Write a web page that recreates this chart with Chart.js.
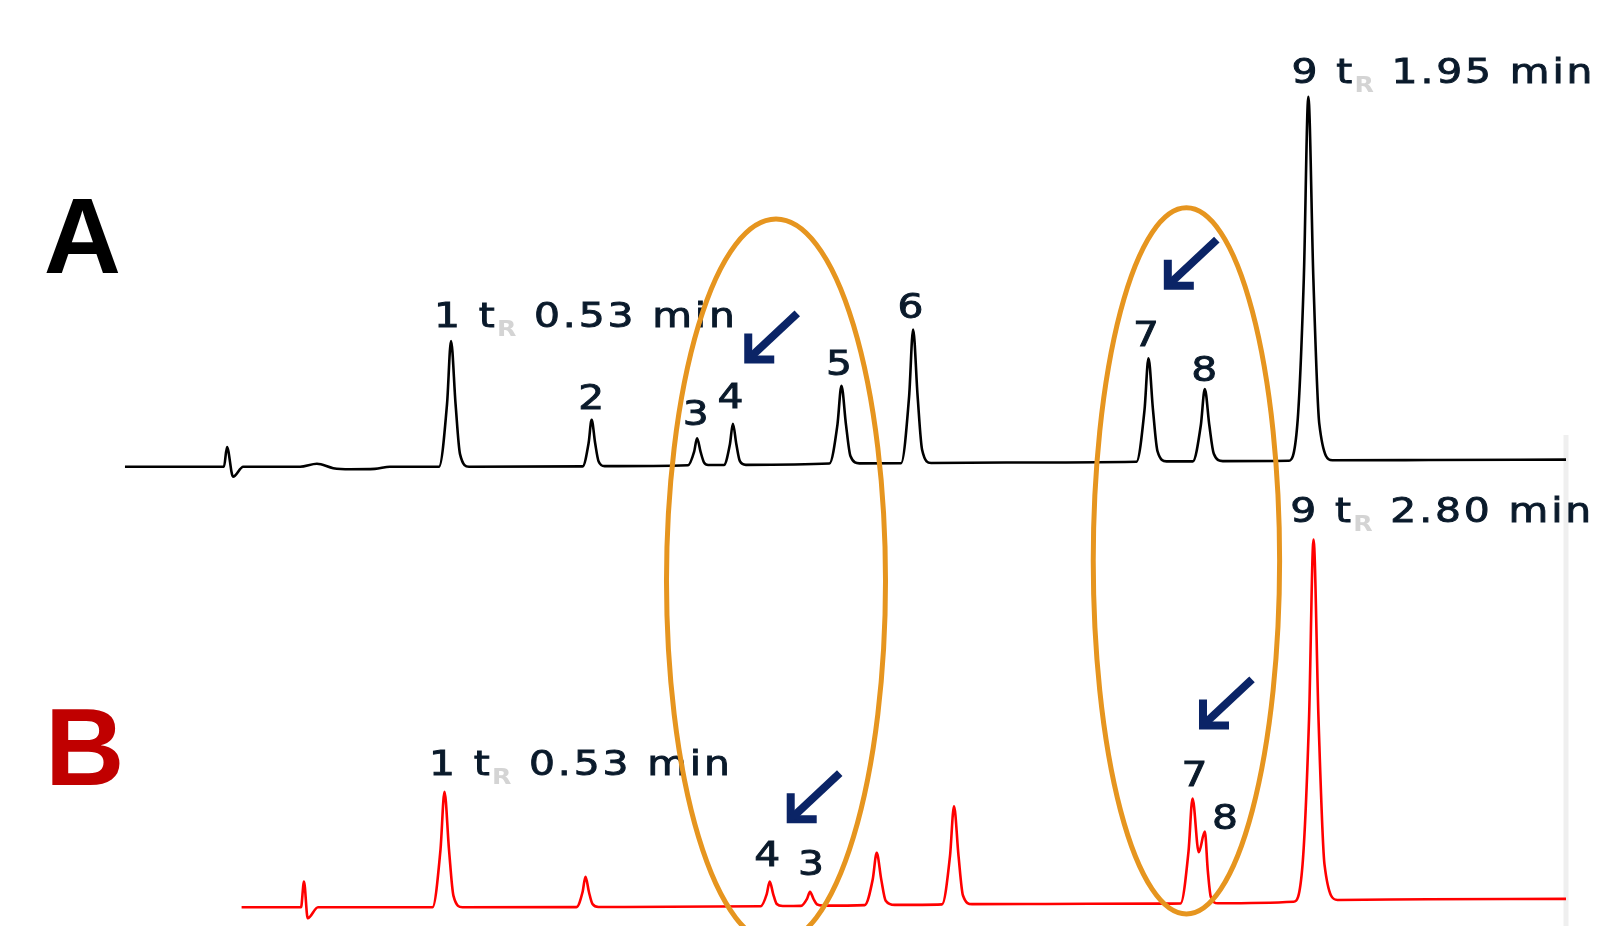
<!DOCTYPE html>
<html>
<head>
<meta charset="utf-8">
<title>Chromatograms A / B</title>
<script src="https://cdn.jsdelivr.net/npm/chart.js@4.4.1/dist/chart.umd.min.js"></script>
<style>
    html, body { margin: 0; padding: 0; background: #fff; overflow: hidden; }
    #wrap { position: relative; width: 1605px; height: 926px; }
</style>
</head>
<body>
<div id="wrap"><canvas id="myChart"></canvas></div>
<script>
// trace A (black): retention time in min, signal in % of peak 9
const timeA = [-0.010, 0.154, 0.159, 0.169, 0.186, 0.280, 0.308, 0.335, 0.363, 0.404, 0.429,
    0.5102, 0.5235, 0.5301, 0.5376, 0.5450, 0.5599,
    0.7481, 0.7580, 0.7630, 0.7688, 0.7746, 0.7845,
    0.9228, 0.9327, 0.9377, 0.9435, 0.9493, 0.9560,
    0.9821, 0.9920, 0.9970, 1.0028, 1.0086, 1.0185,
    1.1569, 1.1702, 1.1768, 1.1843, 1.1917, 1.2066,
    1.2756, 1.2889, 1.2955, 1.3030, 1.3104, 1.3253,
    1.4500,
    1.6655, 1.6788, 1.6854, 1.6929, 1.7003, 1.7152,
    1.7588, 1.7721, 1.7787, 1.7862, 1.7936, 1.8085,
    1.9171, 1.9320, 1.9427, 1.9502, 1.9585, 1.9684, 1.9900,
    2.1500, 2.3770];
const signalA = [0, 0, 5.3, -2.7, 0, 0, 0.8, -0.4, -0.7, -0.6, 0,
    0, 17, 34.0, 17, 3.4, 0,
    0.1, 6.4, 12.7, 6.4, 1.4, 0.15,
    0.4, 4.0, 7.7, 4.0, 1.1, 0.45,
    0.45, 6.0, 11.6, 6.0, 1.5, 0.5,
    0.85, 11.4, 21.9, 11.4, 2.9, 0.9,
    0.95, 19, 37.1, 19, 4.6, 1.0,
    1.15,
    1.35, 15.3, 29.3, 15.3, 4.2, 1.45,
    1.45, 11.2, 21.0, 11.2, 3.5, 1.5,
    1.6, 11.5, 51, 100.1, 51, 11.5, 1.75,
    1.8, 1.9];

// trace B (red)
const timeB = [0.000, 0.1552, 0.1630, 0.1727, 0.1996,
    0.4987, 0.5196, 0.5300, 0.5418, 0.5535, 0.5770,
    0.8749, 0.8906, 0.8984, 0.9075, 0.9167, 0.9324,
    1.3561, 1.3718, 1.3796, 1.3887, 1.3979, 1.4136,
    1.4613, 1.4770, 1.4848, 1.4939, 1.5031, 1.5188,
    1.6278, 1.6487, 1.6591, 1.6709, 1.6826, 1.7061,
    1.8297, 1.8506, 1.8610, 1.8728, 1.8845, 1.9080,
    2.1000, 2.4000,
    2.4528, 2.4737, 2.4841, 2.5004, 2.5162, 2.5240, 2.5320, 2.5500,
    2.7480, 2.7715, 2.7884, 2.8002, 2.8133, 2.8289, 2.8629,
    3.1000, 3.4598];
const signalB = [0, 0, 7.0, -3.0, 0,
    0, 15.7, 31.4, 15.7, 3.1, 0,
    0.05, 4.1, 8.3, 4.1, 0.9, 0.1,
    0.3, 3.6, 7.0, 3.6, 0.9, 0.35,
    0.4, 2.3, 4.2, 2.3, 0.8, 0.45,
    0.6, 7.6, 14.8, 7.6, 1.8, 0.65,
    0.8, 14.0, 27.5, 14.0, 3.2, 0.85,
    0.9, 1.0,
    1.05, 15.3, 29.6, 15.0, 20.6, 10.0, 2.8, 1.1,
    1.5, 11.6, 51, 100.1, 51, 11.6, 2.0,
    2.2, 2.3];

// peak labels ("_R" = subscript R)
const labelTextA = ['1 t_R 0.53 min', '2', '3', '4', '5', '6', '7', '8', '9 t_R 1.95 min'];
const labelTimeA = [0.5234, 0.7648, 0.9377, 0.9954, 1.1751, 1.2937, 1.6838, 1.7803, 1.9439];
const labelLevelA = [37.7, 15.5, 11.3, 15.8, 24.9, 40.2, 32.7, 23.2, 103.7];
const labelTextB = ['1 t_R 0.53 min', '4', '3', '7', '8', '9 t_R 2.80 min'];
const labelTimeB = [0.5235, 1.377, 1.4914, 2.4932, 2.5724, 2.7735];
const labelLevelB = [36.0, 11.2, 8.8, 33.0, 21.3, 104.9];

// arrow tips
const arrowTimeA = [1.0158, 1.7108];
const arrowLevelA = [27.95, 47.9];
const arrowTimeB = [1.4240, 2.5010];
const arrowLevelB = [22.9, 48.4];

// circled regions (on A axes)
const circleFrom = [0.887, 1.5939];
const circleTo = [1.2498, 1.9026];
const circleTop = [67.0, 70.05];
const circleBottom = [-128.9, -121.0];

const panelNames = ['A', 'B'];
const panelTime = [-0.1445, -0.5136];
const panelLevel = [52.3, 33.3];

const frameEnd = 2.377;
const frameTop = 8.6;

function stretched(c, text, x, y, align, font, color, weight) {
    c.save();
    c.font = font;
    c.fillStyle = color;
    c.strokeStyle = color;
    c.lineWidth = weight || 0;
    c.letterSpacing = '2.4px';
    c.textAlign = align;
    c.textBaseline = 'alphabetic';
    c.translate(x, y);
    c.scale(1.2, 1);
    c.fillText(text, 0, 0);
    if (weight) c.strokeText(text, 0, 0);
    c.restore();
}

function drawLabels(c, xs, ys, texts, times, levels) {
    const font = '34px "DejaVu Sans"';
    const ink = '#0a1a2b';
    for (let i = 0; i < texts.length; i++) {
        const cx = xs.getPixelForValue(times[i]);
        const by = ys.getPixelForValue(levels[i]);
        const parts = texts[i].split('_R');
        if (parts.length === 1) {
            stretched(c, parts[0], cx, by, 'center', font, ink, 0.9);
        } else {
            stretched(c, parts[0], cx - 13, by, 'left', font, ink, 0.9);
            stretched(c, 'R', cx + 50, by + 9, 'left', 'bold 21px "DejaVu Sans"', '#d4d4d4');
            stretched(c, parts[1].trim(), cx + 87, by, 'left', font, ink, 0.9);
        }
    }
}

function drawArrows(c, xs, ys, times, levels) {
    c.save();
    c.strokeStyle = '#0b2466';
    c.lineWidth = 8;
    c.lineCap = 'butt';
    c.lineJoin = 'miter';
    for (let i = 0; i < times.length; i++) {
        const tx = xs.getPixelForValue(times[i]);
        const ty = ys.getPixelForValue(levels[i]);
        c.beginPath();
        c.moveTo(tx + 4, ty - 30);
        c.lineTo(tx + 4, ty - 4);
        c.lineTo(tx + 30, ty - 4);
        c.stroke();
        c.beginPath();
        c.moveTo(tx + 6, ty - 6);
        c.lineTo(tx + 53, ty - 50);
        c.stroke();
    }
    c.restore();
}

const overlay = {
    id: 'overlay',
    beforeDatasetsDraw(chart) {
        const c = chart.ctx, xA = chart.scales.xA, yA = chart.scales.yA;
        c.save();
        c.strokeStyle = '#efefef';
        c.lineWidth = 5;
        c.beginPath();
        c.moveTo(xA.getPixelForValue(frameEnd), yA.getPixelForValue(frameTop));
        c.lineTo(xA.getPixelForValue(frameEnd), chart.height);
        c.stroke();
        c.restore();
    },
    afterDatasetsDraw(chart) {
        const c = chart.ctx, s = chart.scales;
        drawArrows(c, s.xA, s.yA, arrowTimeA, arrowLevelA);
        drawArrows(c, s.xB, s.yB, arrowTimeB, arrowLevelB);
        drawLabels(c, s.xA, s.yA, labelTextA, labelTimeA, labelLevelA);
        drawLabels(c, s.xB, s.yB, labelTextB, labelTimeB, labelLevelB);

        c.save();
        c.strokeStyle = '#e6951f';
        c.lineWidth = 5;
        for (let i = 0; i < circleFrom.length; i++) {
            const l = s.xA.getPixelForValue(circleFrom[i]), r = s.xA.getPixelForValue(circleTo[i]);
            const t = s.yA.getPixelForValue(circleTop[i]), b = s.yA.getPixelForValue(circleBottom[i]);
            c.beginPath();
            c.ellipse((l + r) / 2, (t + b) / 2, (r - l) / 2, (b - t) / 2, 0, 0, Math.PI * 2);
            c.stroke();
        }

        c.textAlign = 'left';
        c.textBaseline = 'alphabetic';
        c.font = 'bold 107px "Liberation Sans"';
        c.fillStyle = '#000000';
        c.fillText(panelNames[0], s.xA.getPixelForValue(panelTime[0]), s.yA.getPixelForValue(panelLevel[0]));
        c.font = 'bold 110px "Liberation Sans"';
        c.fillStyle = '#c00000';
        c.fillText(panelNames[1], s.xB.getPixelForValue(panelTime[1]), s.yB.getPixelForValue(panelLevel[1]));
        c.restore();
    }
};

let ctx = document.getElementById('myChart').getContext('2d');

const data = {
    datasets: [{
        label: 'A',
        data: timeA.map((t, i) => ({ x: t, y: signalA[i] })),
        xAxisID: 'xA',
        yAxisID: 'yA',
        borderColor: '#000000',
        borderWidth: 2.6,
        pointRadius: 0,
        fill: false,
        cubicInterpolationMode: 'monotone'
    }, {
        label: 'B',
        data: timeB.map((t, i) => ({ x: t, y: signalB[i] })),
        xAxisID: 'xB',
        yAxisID: 'yB',
        borderColor: '#ff0000',
        borderWidth: 2.6,
        pointRadius: 0,
        fill: false,
        cubicInterpolationMode: 'monotone'
    }]
};

const config = {
    type: 'line',
    data: data,
    plugins: [overlay],
    options: {
        responsive: true,
        maintainAspectRatio: false,
        animation: false,
        events: [],
        layout: { padding: 0 },
        plugins: {
            legend: { display: false },
            tooltip: { enabled: false }
        },
        scales: {
            xA: { type: 'linear', axis: 'x', display: false, min: -0.217, max: 2.4416 },
            xB: { type: 'linear', axis: 'x', display: false, min: -0.6311, max: 3.5616 },
            yA: { type: 'linear', axis: 'y', display: false, min: -124.27, max: 126.27 },
            yB: { type: 'linear', axis: 'y', display: false, min: -5.09, max: 246.9 }
        }
    }
};

let myChart = new Chart(ctx,
    config
);
</script>
</body>
</html>
